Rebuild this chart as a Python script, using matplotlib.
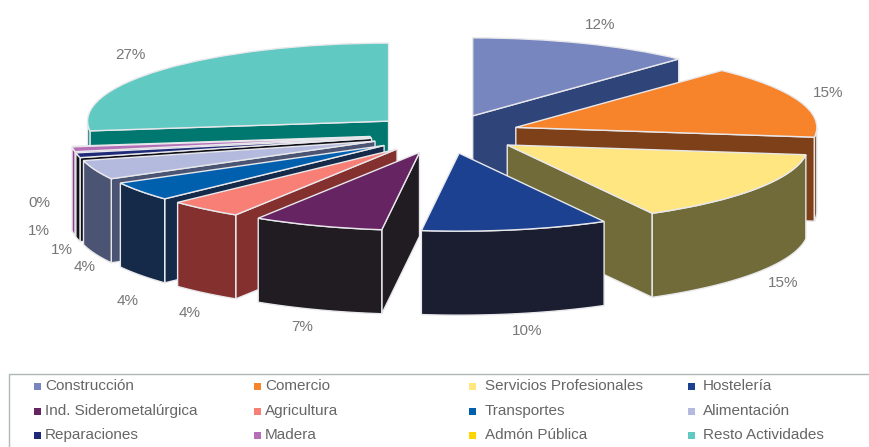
import numpy as np
import matplotlib
matplotlib.use("Agg")
import matplotlib.pyplot as plt
from matplotlib.patches import Polygon, Rectangle

categories = ["Construcción", "Comercio", "Servicios Profesionales", "Hostelería",
              "Ind. Siderometalúrgica", "Agricultura", "Transportes", "Alimentación",
              "Reparaciones", "Madera", "Admón Pública", "Resto Actividades"]
values = [12, 15, 15, 10, 7, 4, 4, 4, 1, 1, 0, 27]

top_colors = ["#7886C0", "#F7832A", "#FFE680", "#1C4190", "#662462", "#F77F75",
              "#0060AE", "#B3BADD", "#1E2A78", "#B570B8", "#FFD500", "#5FC9C2"]
wall_colors = ["#2F4579", "#7E4018", "#706B39", "#1A1E30", "#201C22", "#83302E",
               "#152A49", "#4B5472", "#101018", "#913E90", "#706000", "#007870"]

# label anchor positions, image pixels
label_px = [(600, 25), (828, 93), (783, 283), (527, 331), (302, 327), (190, 313),
            (128, 301), (85, 267), (62, 250), (39, 231), (39, 203), (130, 55)]

W, H = 870, 447
CX, CY, A, B, DEPTH = 445, 134, 301, 78, 84
EXPLODE = 0.25

plt.rcParams["font.family"] = ["Liberation Sans", "DejaVu Sans"]
fig = plt.figure(figsize=(W / 100, H / 100), dpi=100, facecolor="white")
ax = fig.add_axes([0, 0, 1, 1])

wedges, _ = ax.pie(values, explode=[EXPLODE] * len(values), colors=top_colors, radius=1,
                   startangle=90, counterclock=False,
                   wedgeprops=dict(edgecolor="#E8E8EC", linewidth=1.0))
ax.set_aspect("auto")
ax.set_xlim(-CX / A, (W - CX) / A)
ax.set_ylim((CY - H) / B, CY / B)
ax.axis("off")

total = sum(values)
edges = np.concatenate([[0], np.cumsum(values)]) / total * 2 * np.pi
depth = DEPTH / B


def rim(t):
    return np.sin(t), np.cos(t)


order = sorted(range(len(values)), key=lambda i: -np.cos((edges[i] + edges[i + 1]) / 2))
for z, i in enumerate(order):
    t0, t1 = edges[i], edges[i + 1]
    tm = (t0 + t1) / 2
    ox, oy = EXPLODE * np.sin(tm), EXPLODE * np.cos(tm)
    base = 2 + z * 3
    style = dict(facecolor=wall_colors[i], edgecolor="#E8E8EC", linewidth=1.0)
    # radial cut faces
    for t, visible in ((t0, t0 > np.pi), (t1, t1 < np.pi + 0.01 and t1 > 0)):
        if visible and t1 > t0:
            x, y = rim(t)
            pts = [(ox, oy), (ox + x, oy + y), (ox + x, oy + y - depth), (ox, oy - depth)]
            ax.add_patch(Polygon(pts, closed=True, zorder=base, **style))
    # outer rim wall, front half only
    a0, a1 = max(t0, np.pi / 2), min(t1, 3 * np.pi / 2)
    if a1 > a0:
        ts = np.linspace(a0, a1, 60)
        xs, ys = rim(ts)
        upper = np.column_stack([ox + xs, oy + ys])
        lower = np.column_stack([ox + xs, oy + ys - depth])[::-1]
        ax.add_patch(Polygon(np.vstack([upper, lower]), closed=True, zorder=base + 1, **style))
    wedges[i].set_zorder(base + 2)

# percentage labels
for v, (px, py) in zip(values, label_px):
    fig.text(px / W, 1 - py / H, f"{v:.0f}%", color="#777777", fontsize=11,
             ha="center", va="center")

# legend
fig.add_artist(Rectangle((9 / W, -0.01), (W + 10) / W, 1 - 374 / H + 0.01,
                         transform=fig.transFigure, facecolor="white",
                         edgecolor="#AEB8B8", linewidth=1.0))
col_swatch = [37, 257, 473, 692]
col_text = [45, 265, 485, 703]
row_y = [386, 411, 435]
for k, (name, color) in enumerate(zip(categories, top_colors)):
    r, c = k // 4, k % 4
    fig.add_artist(Rectangle(((col_swatch[c] - 3.5) / W, 1 - (row_y[r] + 3.5) / H), 7 / W, 7 / H,
                             transform=fig.transFigure, facecolor=color, edgecolor="none"))
    fig.text(col_text[c] / W, 1 - row_y[r] / H, name, color="#666666", fontsize=11,
             ha="left", va="center")

fig.savefig("out.png", dpi=100, facecolor="white")
